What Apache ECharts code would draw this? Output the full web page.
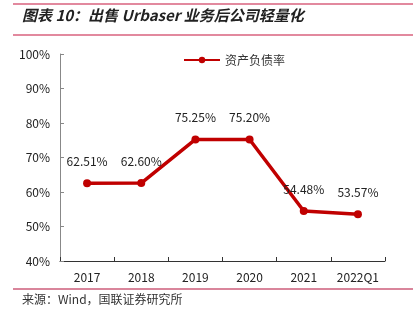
<!DOCTYPE html>
<html><head><meta charset="utf-8">
<script src="https://cdn.jsdelivr.net/npm/echarts@6/dist/echarts.min.js"></script>
<style>html,body{margin:0;padding:0;background:#fff}#c{width:413px;height:322px}</style>
</head><body><div id="c"></div>
<script>
const categories = ['2017','2018','2019','2020','2021','2022Q1'];
const debtRatio = [62.51, 62.60, 75.25, 75.20, 54.48, 53.57];
const seriesName = '资产负债率';
const titleText = '图表 10：出售 Urbaser 业务后公司轻量化';
const sourceText = '来源：Wind，国联证券研究所';

const chart = echarts.init(document.getElementById('c'));
chart.setOption({
  animation: false,
  textStyle: {fontFamily: '"Noto Sans CJK SC", sans-serif'},
  graphic: [
    {type: 'line', shape: {x1: 13, y1: 4, x2: 413, y2: 4}, style: {stroke: '#d9627e', lineWidth: 1.5}},
    {type: 'text', left: 22, top: 8, style: {text: titleText, fill: '#222', font: 'italic bold 15px "Noto Sans CJK SC", sans-serif'}},
    {type: 'line', shape: {x1: 13, y1: 35, x2: 413, y2: 35}, style: {stroke: '#d9627e', lineWidth: 1.5}},
    {type: 'line', shape: {x1: 13, y1: 289, x2: 413, y2: 289}, style: {stroke: '#d9859b', lineWidth: 2}},
    {type: 'text', left: 22, top: 293, style: {text: sourceText, fill: '#333', font: '12px "Noto Sans CJK SC", sans-serif'}}
  ],
  legend: {
    top: 49, left: 178, itemWidth: 36, itemHeight: 8, itemGap: 6,
    textStyle: {fontSize: 12, color: '#333'},
    data: [{name: seriesName}]
  },
  grid: {left: 60, right: 28, top: 54, bottom: 61},
  xAxis: {
    type: 'category', data: categories, boundaryGap: true,
    axisLine: {lineStyle: {color: '#333'}},
    axisTick: {show: true, inside: true, length: 4, lineStyle: {color: '#333'}},
    axisLabel: {color: '#222', fontSize: 12, margin: 10, interval: 0}
  },
  yAxis: {
    type: 'value', min: 40, max: 100, interval: 10,
    axisLine: {show: true, lineStyle: {color: '#888'}},
    axisTick: {show: true, inside: true, length: 4, lineStyle: {color: '#888'}},
    splitLine: {show: false},
    axisLabel: {formatter: '{value}%', color: '#222', fontSize: 12, margin: 10}
  },
  series: [{
    name: seriesName, type: 'line', data: debtRatio,
    symbol: 'circle', symbolSize: 8,
    lineStyle: {color: '#C00000', width: 3.5},
    itemStyle: {color: '#C00000'},
    label: {show: true, position: 'top', distance: 12, color: '#222', fontSize: 12,
      formatter: p => p.value.toFixed(2) + '%'}
  }]
});
</script></body></html>
